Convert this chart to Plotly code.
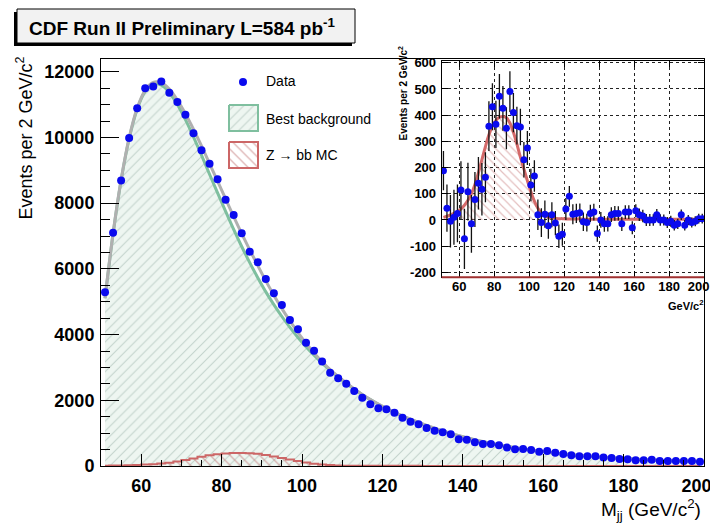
import plotly.graph_objects as go

# ---------------- data ----------------
mass_bins = list(range(51, 200, 2))  # 2 GeV bin centres, 50..200

data_counts = [5290, 7100, 8690, 9980, 10890, 11500, 11550, 11700, 11360, 11080,
               10690, 10130, 9610, 9200, 8730, 8100, 7640, 7080, 6520, 6200,
               5690, 5260, 4900, 4440, 4160, 3750, 3510, 3180, 2840, 2670,
               2500, 2280, 2080, 1880, 1760, 1730, 1620, 1470, 1350, 1270,
               1160, 1070, 1030, 965, 815, 800, 720, 670, 670, 630,
               560, 510, 520, 490, 430, 455, 405, 365, 325, 295,
               295, 295, 255, 245, 215, 205, 175, 175, 190, 155,
               150, 150, 150, 150, 130]

bkg_fit = [5100, 7060, 8690, 9960, 10860, 11400, 11620, 11590, 11370, 11000,
           10540, 10020, 9460, 8880, 8310, 7750, 7200, 6680, 6190, 5730,
           5300, 4910, 4550, 4220, 3910, 3630, 3370, 3130, 2910, 2710,
           2520, 2340, 2170, 2020, 1880, 1750, 1630, 1520, 1420, 1320,
           1230, 1145, 1065, 990, 920, 855, 795, 740, 690, 640,
           595, 555, 515, 480, 450, 420, 390, 365, 340, 318,
           298, 280, 262, 246, 231, 217, 204, 192, 181, 171,
           162, 154, 147, 140, 134]

z_mc = [10, 14, 19, 25, 32, 42, 56, 75, 100, 135,
        180, 230, 280, 325, 358, 380, 392, 395, 390, 370,
        335, 290, 240, 195, 150, 108, 72, 45, 27, 16,
        10, 7, 6, 5, 5, 4, 4, 4, 4, 4,
        3, 3, 3, 3, 3, 3, 3, 3, 3, 3,
        3, 3, 3, 3, 3, 3, 3, 3, 3, 3,
        3, 3, 3, 3, 3, 3, 3, 3, 3, 3,
        3, 3, 3, 3, 3]

sub_counts = [188, 45, -5, 10, 25, 114, -72, 108, -15, 78,
              140, 117, 163, 358, 432, 365, 472, 426, 350, 490,
              410, 360, 355, 230, 275, 133, 168, 20, -10, 22,
              -22, 20, -12, -62, -55, 42, 90, 22, 25, 27,
              -7, -10, 25, 30, -52, 0, -15, -15, 20, 25,
              25, -15, 30, 30, -30, 35, 20, 15, 0, 0,
              0, 20, 0, 0, -10, -5, -20, -15, 20, -20,
              0, -10, -5, 5, 5]

sub_err = [75, 90, 100, 105, 110, 110, 115, 110, 110, 105,
           100, 100, 95, 95, 90, 90, 85, 85, 80, 78,
           75, 72, 70, 68, 65, 62, 60, 58, 55, 52,
           50, 48, 46, 45, 44, 42, 40, 38, 37, 36,
           35, 34, 33, 32, 31, 30, 30, 29, 28, 28,
           27, 27, 26, 26, 25, 25, 24, 24, 23, 23,
           22, 22, 22, 21, 21, 21, 20, 20, 20, 20,
           19, 19, 19, 19, 19]

NB = "\u00a0\u00a0\u00a0"  # keeps the last label inside the page edge, as in the reference
main_xticks = [60, 80, 100, 120, 140, 160, 180, 200]
main_xticktext = ["60", "80", "100", "120", "140", "160", "180", "200" + NB]
main_yticks = [0, 2000, 4000, 6000, 8000, 10000, 12000]
main_yticktext = ["0", "2000", "4000", "6000", "8000", "10000", "12000"]
inset_xticks = [60, 80, 100, 120, 140, 160, 180, 200]
inset_xticktext = ["60", "80", "100", "120", "140", "160", "180", "200" + NB]
inset_yticks = [-200, -100, 0, 100, 200, 300, 400, 500, 600]
inset_yticktext = ["-200", "-100", "0", "100", "200", "300", "400", "500", "600"]

legend_labels = ["Data", "Best background", "Z \u2192 bb MC"]

total_fit = [b + z for b, z in zip(bkg_fit, z_mc)]

# ---------------- geometry helpers (reference pixel coords) ----------------
OFF = 8                       # page body margin of the html page
W, H = 718 - OFF, 524 - OFF
L, R, T, B = 101, 704, 59, 466


def px(p):
    return (p - L) / (R - L)


def py(q):
    return (B - q) / (B - T)


FONT = "Liberation Sans, Arial, Helvetica, sans-serif"
BLUE = "#0a0aee"
GREEN = "#7fbf9f"
RED = "#cc6666"
GRAY = "#b0b0b0"

fig = go.Figure()

# ---------------- main plot ----------------
fig.add_trace(go.Scatter(
    x=mass_bins, y=bkg_fit, mode="lines", line=dict(width=0, shape="spline"),
    fill="tozeroy", fillcolor="rgba(236,246,240,1)",
    fillpattern=dict(shape="/", fgcolor="#97b0a5", bgcolor="#eef6f1", size=7, solidity=0.15),
    hoverinfo="skip", showlegend=False, xaxis="x", yaxis="y"))

fig.add_trace(go.Scatter(
    x=mass_bins, y=z_mc, mode="lines", line=dict(width=2, color=RED, shape="hvh"),
    fill="tozeroy", fillcolor="rgba(0,0,0,0)",
    fillpattern=dict(shape="\\", fgcolor="#c07070", bgcolor="rgba(0,0,0,0)", size=7, solidity=0.2),
    hoverinfo="skip", showlegend=False, xaxis="x", yaxis="y"))

fig.add_trace(go.Scatter(
    x=mass_bins, y=bkg_fit, mode="lines", line=dict(width=3, color=GREEN, shape="spline"),
    showlegend=False, xaxis="x", yaxis="y"))

fig.add_trace(go.Scatter(
    x=mass_bins, y=total_fit, mode="lines", line=dict(width=3, color=GRAY, shape="spline"),
    showlegend=False, xaxis="x", yaxis="y"))

fig.add_trace(go.Scatter(
    x=mass_bins, y=data_counts, mode="markers",
    marker=dict(size=8, color=BLUE, symbol="circle"),
    showlegend=False, xaxis="x", yaxis="y"))

# ---------------- inset ----------------
fig.add_trace(go.Scatter(
    x=mass_bins, y=z_mc, mode="lines", line=dict(width=3, color="#d46a6a", shape="spline"),
    fill="tozeroy", fillcolor="rgba(0,0,0,0)",
    fillpattern=dict(shape="\\", fgcolor="#c98080", bgcolor="rgba(0,0,0,0)", size=6, solidity=0.2),
    showlegend=False, xaxis="x2", yaxis="y2"))

fig.add_trace(go.Scatter(
    x=mass_bins, y=sub_counts, mode="markers",
    marker=dict(size=7, color=BLUE),
    error_y=dict(type="data", array=sub_err, visible=True, color="#111111", thickness=1.3, width=0),
    showlegend=False, xaxis="x2", yaxis="y2"))

# ---------------- legend glyphs (pixel-space helper axis) ----------------
fig.add_trace(go.Scatter(
    x=[243], y=[82], mode="markers", marker=dict(size=8, color=BLUE),
    showlegend=False, xaxis="x3", yaxis="y3", hoverinfo="skip"))
fig.add_trace(go.Scatter(
    x=[229, 258, 258, 229, 229], y=[105, 105, 131, 131, 105], mode="lines",
    line=dict(color=GREEN, width=2), fill="toself", fillcolor="rgba(0,0,0,0)",
    fillpattern=dict(shape="/", fgcolor="#97b0a5", bgcolor="#eef6f1", size=7, solidity=0.15),
    showlegend=False, xaxis="x3", yaxis="y3", hoverinfo="skip"))
fig.add_trace(go.Scatter(
    x=[229, 258, 258, 229, 229], y=[142, 142, 168, 168, 142], mode="lines",
    line=dict(color=RED, width=2), fill="toself", fillcolor="rgba(0,0,0,0)",
    fillpattern=dict(shape="\\", fgcolor="#c07070", bgcolor="rgba(0,0,0,0)", size=7, solidity=0.2),
    showlegend=False, xaxis="x3", yaxis="y3", hoverinfo="skip"))

axis_common = dict(showline=True, linecolor="black", linewidth=1, zeroline=False,
                   ticks="inside", tickcolor="black", automargin=False,
                   ticklabeloverflow="allow")

fig.update_layout(
    width=W, height=H,
    margin=dict(l=L - OFF, r=W - (R - OFF), t=T - OFF, b=H - (B - OFF), pad=0, autoexpand=False),
    paper_bgcolor="white", plot_bgcolor="white",
    font=dict(family=FONT, color="black"),
    showlegend=False,
    xaxis=dict(domain=[0, 1], range=[50, 200], anchor="y", mirror=True,
               tickvals=main_xticks, ticktext=main_xticktext, ticklen=12, tickwidth=1,
               minor=dict(tickmode="linear", tick0=0, dtick=5, ticklen=6, ticks="inside", tickcolor="black"),
               tickfont=dict(size=18, family=FONT, weight="bold"), ticklabelstandoff=3,
               showgrid=False, **axis_common),
    yaxis=dict(domain=[0, 1], range=[0, 12387], anchor="x", mirror=True,
               tickvals=main_yticks, ticktext=main_yticktext, ticklen=18, tickwidth=1,
               minor=dict(tickmode="linear", tick0=0, dtick=500, ticklen=9, ticks="inside", tickcolor="black"),
               tickfont=dict(size=18, family=FONT, weight="bold"), ticklabelstandoff=2,
               showgrid=False, **axis_common),
    xaxis2=dict(domain=[px(441.7), 1.0], range=[50, 200], anchor="y2", mirror="allticks",
                tickvals=inset_xticks, ticktext=inset_xticktext, ticklen=6,
                tickfont=dict(size=13, family=FONT, weight="bold"), ticklabelstandoff=-3,
                showgrid=True, gridcolor="#222222", griddash="dot", gridwidth=1, **axis_common),
    yaxis2=dict(domain=[py(277.3), py(60.7)], range=[-219, 608], anchor="x2", mirror="allticks",
                tickvals=inset_yticks, ticktext=inset_yticktext, ticklen=6,
                tickfont=dict(size=13, family=FONT, weight="bold"), ticklabelstandoff=2,
                showgrid=True, gridcolor="#222222", griddash="dot", gridwidth=1, **axis_common),
    xaxis3=dict(domain=[px(220), px(400)], range=[220, 400], anchor="y3", visible=False, fixedrange=True),
    yaxis3=dict(domain=[py(175), py(70)], range=[175, 70], anchor="x3", visible=False, fixedrange=True),
)

# red line along the bottom of the inset frame
fig.add_shape(type="line", xref="x2 domain", yref="y2 domain", x0=0, x1=1, y0=0, y1=0,
              line=dict(color="#a03030", width=2))

# title pave with shadow
fig.add_shape(type="rect", xref="paper", yref="paper",
              x0=px(14), x1=px(352), y0=py(12), y1=py(46),
              fillcolor="black", line=dict(width=0), layer="above")
fig.add_shape(type="rect", xref="paper", yref="paper",
              x0=px(17), x1=px(355), y0=py(9), y1=py(43),
              fillcolor="#f2f2f2", line=dict(color="black", width=1), layer="above")

annotations = [
    dict(text="<b>CDF Run II Preliminary L=584 pb<sup>-1</sup></b>", x=px(27), y=py(27),
         xanchor="left", yanchor="middle", font=dict(size=19, family=FONT)),
    dict(text="Events per 2 GeV/c<sup>2</sup>", x=px(25), y=py(55), textangle=-90,
         xanchor="center", yanchor="top", font=dict(size=18, family=FONT)),
    dict(text="M<sub>jj</sub> (GeV/c<sup>2</sup>)", x=px(703), y=py(509),
         xanchor="right", yanchor="middle", font=dict(size=19, family=FONT)),
    dict(text="<b>Events per 2 GeV/c<sup>2</sup></b>", x=px(403), y=py(44), textangle=-90,
         xanchor="center", yanchor="top", font=dict(size=10, family=FONT)),
    dict(text="<b>GeV/c<sup>2</sup></b>", x=px(705), y=py(305),
         xanchor="right", yanchor="middle", font=dict(size=11, family=FONT)),
    dict(text=legend_labels[0], x=px(264), y=py(81), xanchor="left", yanchor="middle",
         font=dict(size=14, family=FONT)),
    dict(text=legend_labels[1], x=px(264), y=py(119), xanchor="left", yanchor="middle",
         font=dict(size=14, family=FONT)),
    dict(text=legend_labels[2], x=px(264), y=py(155), xanchor="left", yanchor="middle",
         font=dict(size=14, family=FONT)),
]
for a in annotations:
    fig.add_annotation(xref="paper", yref="paper", showarrow=False, **a)

fig.write_html("out.html")
